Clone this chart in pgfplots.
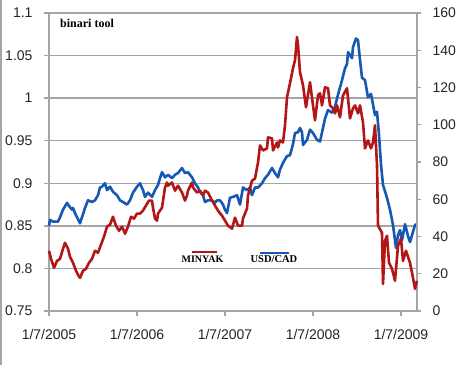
\documentclass[border=0pt]{standalone}
\usepackage{pgfplots}
\pgfplotsset{compat=1.18}
\usepackage{fontspec}
\setmainfont{Liberation Sans}
\newfontfamily\serifb{Liberation Serif}
\definecolor{oilred}{RGB}{178,22,22}
\definecolor{cadblue}{RGB}{22,88,180}
\definecolor{gridgray}{RGB}{165,165,165}
\begin{document}
\begin{tikzpicture}
\useasboundingbox (0,0) rectangle (458bp,365bp);
\fill[white] (0,0) rectangle (458bp,365bp);
\draw[gridgray, line width=1.5bp] (1bp,0) -- (1bp,365bp);
\begin{axis}[
  at={(49bp,54bp)}, anchor=south west,
  width=368bp, height=298bp, scale only axis,
  xmin=0, xmax=368, ymin=0.75, ymax=1.1,
  axis x line*=bottom, axis y line*=left,
  axis line style={gridgray, line width=1.3bp, -},
  xtick={0,88,176,264,352},
  xticklabels={1/7/2005,1/7/2006,1/7/2007,1/7/2008,1/7/2009},
  ytick={0.75,0.8,0.85,0.9,0.95,1,1.05,1.1},
  yticklabels={0.75,0.8,0.85,0.9,0.95,1,1.05,1.1},
  tick align=outside, major tick length=5bp,
  tick style={gridgray, line width=1.3bp},
  ymajorgrids, grid style={gridgray, line width=1.3bp},
  ticklabel style={font=\fontsize{14bp}{16bp}\selectfont, text=black!85},
  xticklabel style={yshift=-10bp},
  yticklabel style={xshift=-8bp},
  clip=false,
]
\addplot[cadblue, line width=2.6bp, line join=round] coordinates {
(0,0.850) (1,0.857) (4,0.855) (9,0.855) (11,0.860) (14,0.869) (18,0.877) (19,0.875)
(21,0.872) (23,0.869) (24,0.871) (26,0.865) (28,0.860) (31,0.853) (33,0.860) (36,0.871)
(39,0.880) (43,0.878) (46,0.880) (49,0.886) (51,0.895) (53,0.896) (56,0.900) (58,0.892)
(61,0.896) (64,0.890) (68,0.886) (71,0.880) (74,0.878) (78,0.875) (81,0.880) (84,0.889)
(88,0.896) (91,0.900) (94,0.892) (96,0.884) (99,0.889) (103,0.884) (106,0.892) (109,0.898)
(111,0.906) (113,0.913) (116,0.907) (119,0.910) (123,0.906) (126,0.910) (129,0.912) (133,0.918)
(136,0.912) (139,0.913) (143,0.907) (146,0.900) (149,0.895) (151,0.890) (154,0.886) (156,0.878)
(159,0.880) (163,0.880) (166,0.877) (168,0.880) (171,0.880) (174,0.875) (176,0.869) (178,0.865)
(181,0.883) (184,0.884) (188,0.886) (191,0.875) (194,0.895) (198,0.892) (201,0.895) (203,0.886)
(206,0.895) (209,0.895) (213,0.900) (216,0.906) (219,0.910) (223,0.918) (226,0.912) (229,0.907)
(231,0.916) (234,0.924) (238,0.932) (241,0.933) (244,0.946) (246,0.959) (249,0.960) (251,0.965)
(253,0.960) (254,0.945) (258,0.951) (261,0.963) (264,0.959) (268,0.951) (271,0.949) (274,0.965)
(276,0.976) (279,0.986) (283,0.983) (286,0.990) (289,1.004) (293,1.021) (296,1.035) (298,1.040)
(299,1.054) (303,1.047) (304,1.060) (307,1.070) (309,1.068) (311,1.045) (313,1.024) (316,1.021)
(319,1.001) (322,1.005) (326,0.980) (328,0.984) (330,0.957) (332,0.922) (334,0.898) (338,0.883)
(341,0.869) (344,0.851) (347,0.824) (349,0.839) (351,0.845) (353,0.833) (356,0.852) (359,0.838)
(361,0.831) (364,0.843) (366,0.851) (368,0.852)
};
\end{axis}
\begin{axis}[
  at={(49bp,54bp)}, anchor=south west,
  width=368bp, height=298bp, scale only axis,
  xmin=0, xmax=368, ymin=0, ymax=160,
  axis x line=none, axis y line*=right,
  axis line style={gridgray, line width=1.3bp, -},
  ytick={0,20,40,60,80,100,120,140,160},
  yticklabels={0,20,40,60,80,100,120,140,160},
  tick align=outside, major tick length=4bp,
  tick style={gridgray, line width=1.3bp},
  ticklabel style={font=\fontsize{14bp}{16bp}\selectfont, text=black!85},
  yticklabel style={xshift=8bp},
  clip=false,
]
\addplot[oilred, line width=2.6bp, line join=round] coordinates {
(0,32.3) (2,28.0) (5,23.2) (8,26.9) (11,28.0) (14,33.4) (16,36.6) (19,33.4)
(21,29.1) (24,25.9) (27,21.6) (29,19.4) (31,17.8) (34,21.6) (37,22.6) (40,25.9)
(43,28.0) (46,32.3) (49,31.3) (52,35.6) (55,39.9) (58,45.3) (61,46.3) (64,50.6)
(67,45.8) (70,43.1) (73,45.3) (76,41.5) (79,45.3) (82,50.6) (85,49.6) (88,52.3)
(91,52.3) (94,53.9) (97,56.6) (100,59.3) (103,59.3) (104,55.5) (106,49.6) (108,48.5)
(109,52.3) (113,55.5) (116,66.3) (118,69.0) (119,67.3) (123,69.0) (126,64.6) (129,67.3)
(133,63.6) (136,59.3) (138,62.0) (139,64.6) (143,69.0) (144,66.3) (148,63.6) (151,64.6)
(154,62.0) (156,64.6) (159,63.6) (163,59.3) (166,56.6) (169,53.9) (173,51.2) (176,48.5)
(179,45.8) (183,44.2) (186,50.1) (189,45.8) (193,45.8) (194,49.6) (198,55.0) (199,62.0)
(203,70.0) (206,71.1) (209,79.7) (211,88.9) (214,86.2) (218,87.3) (219,93.2) (223,92.7)
(224,86.2) (228,90.5) (229,87.8) (231,91.6) (234,90.5) (236,99.7) (238,114.8) (241,122.3)
(244,130.4) (246,134.7) (248,147.1) (249,142.8) (251,128.2) (254,121.2) (257,109.4) (261,122.8)
(264,110.4) (266,102.4) (269,115.8) (271,116.9) (273,110.4) (276,120.1) (279,119.6) (281,110.4)
(284,108.8) (286,106.1) (288,110.4) (291,104.0) (294,115.8) (298,119.6) (301,103.4) (304,108.8)
(306,110.4) (309,106.1) (311,110.4) (314,101.3) (316,87.3) (319,91.6) (322,87.3) (324,90.5)
(326,99.7) (328,78.1) (329,45.8) (333,42.0) (334,14.5) (336,37.7) (338,40.4) (340,25.9)
(343,22.6) (346,16.2) (349,35.0) (352,38.8) (354,26.9) (357,32.3) (361,25.9) (364,17.8)
(366,11.9) (368,16.2)
};
\end{axis}
\node[anchor=base west, font=\serifb\bfseries\fontsize{12bp}{14bp}\selectfont, inner sep=0] at (60bp,337bp) {binari tool};
\draw[oilred, line width=2.6bp] (192bp,113bp) -- (217bp,113bp);
\node[anchor=base, font=\serifb\bfseries\fontsize{10bp}{12bp}\selectfont, inner sep=0] at (202.5bp,102bp) {MINYAK};
\draw[cadblue, line width=2.6bp] (260bp,112bp) -- (289bp,112bp);
\node[anchor=base, font=\serifb\bfseries\fontsize{10.5bp}{12bp}\selectfont, inner sep=0] at (274bp,102bp) {USD/CAD};
\end{tikzpicture}
\end{document}
